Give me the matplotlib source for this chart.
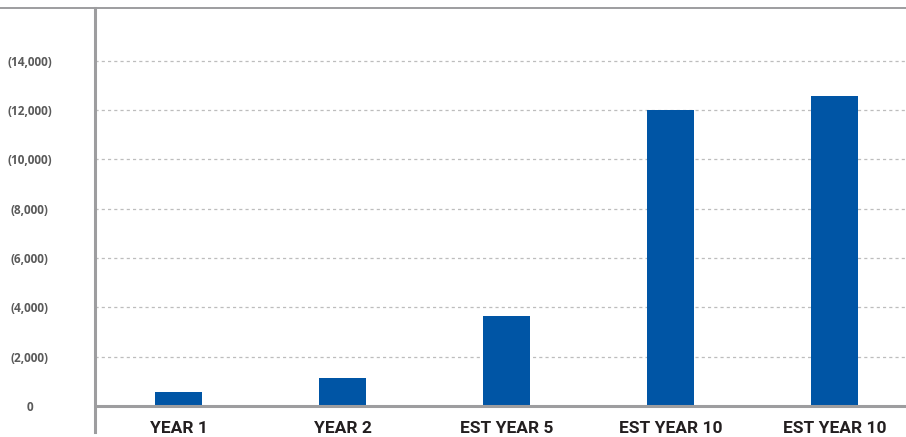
import matplotlib
matplotlib.use('Agg')

import matplotlib.pyplot as plt
from matplotlib.lines import Line2D
import numpy as np

categories = ['YEAR 1', 'YEAR 2', 'EST YEAR 5', 'EST YEAR 10', 'EST YEAR 10']
values = [570, 1140, 3650, 12000, 12570]
ytick_values = [0, 2000, 4000, 6000, 8000, 10000, 12000, 14000]
ytick_labels = ['0', '(2,000)', '(4,000)', '(6,000)', '(8,000)', '(10,000)', '(12,000)', '(14,000)']


def main():
    bar_color = '#0055a5'
    axis_grey = '#9d9d9f'
    grid_grey = '#bdbdbd'

    fig = plt.figure(figsize=(9.06, 4.37), dpi=100)
    W, H = 906, 437
    # axes box in pixels: left 95, right 906, bottom 432, top 7.5
    ax = fig.add_axes([95 / W, (H - 432) / H, (W - 95) / W, (432 - 7.5) / H])

    x = np.arange(len(categories))
    ax.bar(x, values, width=0.287, color=bar_color, zorder=3)

    ax.set_xlim(-0.509, 4.436)
    ax.set_ylim(-1054, 16160)

    for v in ytick_values[1:]:
        ax.axhline(v, color=grid_grey, lw=0.9, ls=(0, (2.5, 2.5)), zorder=1)
    ax.axhline(0, color=axis_grey, lw=2.2, zorder=4)

    for s in ['top', 'right', 'bottom']:
        ax.spines[s].set_visible(False)
    ax.spines['left'].set_color(axis_grey)
    ax.spines['left'].set_linewidth(2.2)

    ax.set_yticks(ytick_values)
    ax.set_yticklabels(ytick_labels, ha='center', fontsize=8.5,
                       fontweight='bold', color='#5a5a5a', family='Open Sans')
    ax.tick_params(axis='y', length=0, pad=47)

    ax.set_xticks([])
    for xi, lab in zip(x, categories):
        ax.text(xi, -1054 * 0.85, lab, ha='center', va='center', fontsize=12.5,
                fontweight='bold', color='#231f20', family='Roboto')

    # thin rule across the top of the figure
    fig.add_artist(Line2D([0, 1], [(H - 7.5) / H] * 2, transform=fig.transFigure,
                          color=axis_grey, lw=1.4))

    fig.savefig('out.png', dpi=100)
    plt.close(fig)


if __name__ == '__main__':
    main()
